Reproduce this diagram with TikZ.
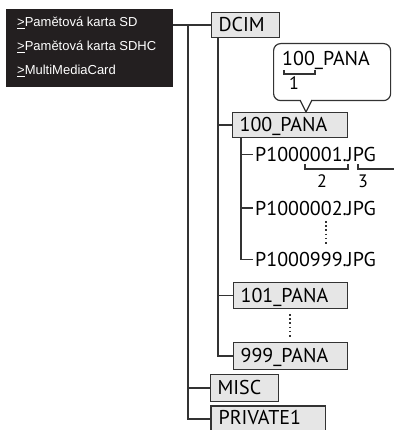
\documentclass[tikz,border=0pt]{standalone}
\usepackage{fontspec}
\setmainfont{PT Sans}
\newfontfamily\cardfont{Liberation Sans}
\definecolor{linec}{HTML}{333333}
\definecolor{boxfill}{HTML}{E6E6E6}
\definecolor{blackbox}{HTML}{231F20}
\newcommand{\gtmark}{\underline{>}}
\begin{document}
\begin{tikzpicture}[x=1pt,y=-1pt,
  conn/.style={draw=linec, line width=1.3pt},
  folder/.style={draw=linec, fill=boxfill, line width=1.2pt, inner xsep=7pt, inner ysep=0pt,
    anchor=north west, align=left, text height=13.5pt, text depth=0pt,
    font=\fontsize{20}{24}\selectfont},
  fname/.style={anchor=base west, inner sep=0pt, font=\fontsize{20}{24}\selectfont},
  num/.style={inner sep=0pt, anchor=base, font=\fontsize{18}{22}\selectfont},
  card/.style={anchor=west, inner sep=0pt, text=white, font=\cardfont\fontsize{13}{15}\selectfont},
  dots/.style={draw=linec, line width=1.6pt, dash pattern=on 1.6pt off 2.6pt}
]
\useasboundingbox (0,0) rectangle (394,430);

% black card box
\node[fill=blackbox, anchor=north west, minimum width=167pt, minimum height=78pt, inner sep=0pt] (blk) at (6,9) {};
\node[card] (c1) at (17,23) {\gtmark Pamětová karta SD};
\node[card] (c2) at (17,47) {\gtmark Pamětová karta SDHC};
\node[card] (c3) at (17,71) {\gtmark MultiMediaCard};

% folders
\node[folder, minimum height=25pt, text width=54pt] (dcim) at (211,12) {DCIM};
\node[folder, minimum height=25pt, text width=101pt] (p100) at (232,112) {100\_PANA};
\node[folder, minimum height=26pt, text width=100pt] (p101) at (233,282) {101\_PANA};
\node[folder, minimum height=27pt, text width=100pt] (p999) at (233,342) {999\_PANA};
\node[folder, minimum height=27pt, text width=54pt] (misc) at (210,374) {MISC};
\node[folder, draw=none, minimum height=22pt, text width=99pt, text height=14pt] (priv) at (211,406) {PRIVATE1};
\fill[boxfill] (priv.south west) rectangle ([yshift=-4pt]priv.south east);
\draw[draw=linec, line width=1.2pt] ([yshift=-4pt]priv.south west) -- (priv.north west) -- (priv.north east) -- ([yshift=-4pt]priv.south east);

% files
\node[fname] (f1) at (255,161.5) {P1000001.JPG};
\node[fname] (f2) at (255,215) {P1000002.JPG};
\node[fname] (f3) at (255,266.5) {P1000999.JPG};

% tree lines
\coordinate (rx) at (188,0);
\coordinate (dx) at (218,0);
\coordinate (ex) at (241,0);
\coordinate (pv) at (0,419);
\draw[conn] (blk.east |- dcim.west) -- (dcim.west);
\draw[conn] (rx |- dcim.west) |- (priv.west |- pv);
\draw[conn] (rx |- misc.west) -- (misc.west);
\draw[conn] (dx |- dcim.south) |- (p999.west);
\draw[conn] (dx |- p100.west) -- (p100.west);
\draw[conn] (dx |- p101.west) -- (p101.west);
\coordinate (a1) at ([xshift=-2pt,yshift=7pt]f1.base west);
\coordinate (a2) at ([xshift=-2pt,yshift=7pt]f2.base west);
\coordinate (a3) at ([xshift=-2pt,yshift=7pt]f3.base west);
\draw[conn] (ex |- p100.south) |- (a3);
\draw[conn] (ex |- a1) -- (a1);
\draw[conn] (ex |- a2) -- (a2);

% dotted continuations
\draw[dots] (326,221) -- (326,246);
\draw[dots] (290,314) -- (290,339);

% brackets under file name
\draw[conn, line width=1.1pt] (305,164.5) -- (305,169) -- (348,169) -- (348,164.5);
\draw[conn, line width=1.1pt] (358,164.5) -- (358,169) -- (394,169);
\node[num] (n2) at (322,187) {2};
\node[num] (n3) at (363,187) {3};

% callout
\node[draw=linec, line width=1.2pt, fill=white, rounded corners=7pt, anchor=north west,
  minimum width=117pt, minimum height=57pt, inner sep=0pt] (call) at (273,43) {};
\coordinate (tipx) at (306,0);
\coordinate (tip) at (p100.north -| tipx);
\fill[white] (299.5,98.5) -- (312.5,98.5) -- (tip) -- cycle;
\draw[conn, line width=1.2pt, line join=miter] (300,100) -- (tip) -- (312,100);
\node[fname] (ct) at (282,66) {100\_PANA};
\draw[conn, line width=1.1pt] (284,70.5) -- (284,74) -- (315,74) -- (315,70.5);
\node[num] (n1) at (294,90) {1};
\end{tikzpicture}
\end{document}
